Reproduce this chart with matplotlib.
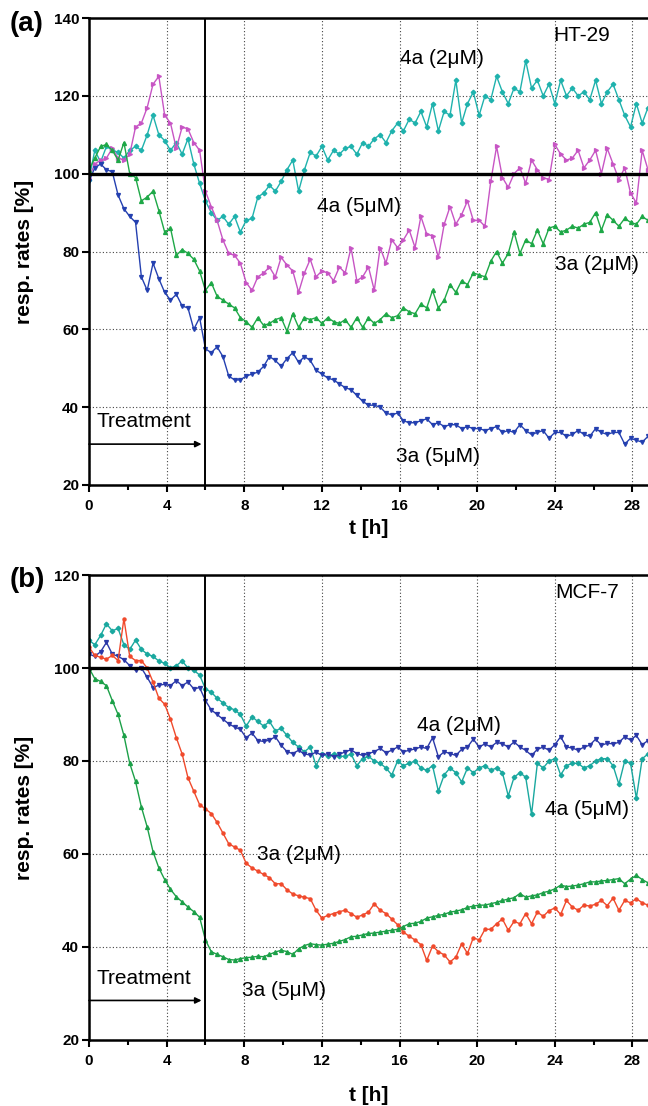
import numpy as np
import matplotlib
matplotlib.use('Agg')
import matplotlib.pyplot as plt
from matplotlib.ticker import MultipleLocator

plt.rcParams['font.family'] = ['Liberation Sans', 'DejaVu Sans']

# sampling times [h] (same grid for all curves)
hours = [0.0, 0.3, 0.6, 0.9, 1.2, 1.5, 1.8, 2.1, 2.4, 2.7,
         3.0, 3.3, 3.6, 3.9, 4.2, 4.5, 4.8, 5.1, 5.4, 5.7,
         6.0, 6.3, 6.6, 6.9, 7.2, 7.5, 7.8, 8.1, 8.4, 8.7,
         9.0, 9.3, 9.6, 9.9, 10.2, 10.5, 10.8, 11.1, 11.4, 11.7,
         12.0, 12.3, 12.6, 12.9, 13.2, 13.5, 13.8, 14.1, 14.4, 14.7,
         15.0, 15.3, 15.6, 15.9, 16.2, 16.5, 16.8, 17.1, 17.4, 17.7,
         18.0, 18.3, 18.6, 18.9, 19.2, 19.5, 19.8, 20.1, 20.4, 20.7,
         21.0, 21.3, 21.6, 21.9, 22.2, 22.5, 22.8, 23.1, 23.4, 23.7,
         24.0, 24.3, 24.6, 24.9, 25.2, 25.5, 25.8, 26.1, 26.4, 26.7,
         27.0, 27.3, 27.6, 27.9, 28.2, 28.5, 28.8]

# (a) HT-29
ht29_4a_2uM = [98.5, 106, 103, 107, 106, 105.5, 104, 106, 107, 106,
               110, 115, 110, 108.5, 106, 108, 105, 109, 102.5, 97.5,
               93, 90, 88, 89, 87, 89, 85, 88, 88.5, 94,
               95, 97, 95.5, 98, 101, 103.5, 95.5, 101, 105.5, 104.5,
               107, 103.5, 106, 105, 106.5, 107, 105, 108, 107, 109,
               110, 108, 111, 113, 111, 114, 113, 116, 112, 118,
               111, 116, 115, 124, 113, 118, 121, 115, 120, 119,
               125, 121, 118, 122, 121, 129, 122, 124, 120, 123,
               118, 124, 120, 122, 120, 121, 119, 124, 118, 121,
               123, 119, 115, 112, 118, 113, 117]
ht29_4a_5uM = [99, 102.5, 103.5, 104, 106.5, 104, 103.5, 105, 112, 113,
               117, 123, 125, 115, 113, 106.5, 112, 111.5, 108, 106,
               95.5, 91.5, 88, 83, 79.5, 79, 77, 72, 70, 73.5,
               74.5, 76, 73.5, 78.5, 76.5, 75, 69.5, 74.5, 78, 73.5,
               75, 74.5, 72.5, 76, 74.5, 81, 72.5, 73.5, 76, 70,
               81, 77, 83, 81, 83, 85.5, 81, 89, 84.5, 84,
               78.5, 87, 91.5, 87, 89.5, 93, 88, 88, 86.5, 98,
               107, 99, 96.5, 100, 101.5, 97.5, 103.5, 101, 99, 98.5,
               107.5, 105, 103.5, 104, 106, 101.5, 103.5, 106, 100, 106.5,
               102.5, 98.5, 101.5, 95, 92.5, 106, 101]
ht29_3a_2uM = [101, 104, 107, 107.5, 106, 103.5, 108, 100, 99, 93,
               94, 95.5, 90.5, 85, 86, 79, 80.5, 79.5, 78, 75,
               70, 72, 68.5, 67.5, 66.5, 65.5, 63, 62, 60.5, 63,
               61, 61.5, 62.5, 63, 59.5, 64, 60.5, 63, 62.5, 63,
               61.5, 63, 62, 61.5, 62.5, 60.5, 63, 60.5, 63, 61.5,
               62.5, 64, 63, 63.5, 65.5, 64.5, 64, 66.5, 65.5, 70,
               65.5, 67.5, 71.5, 69.5, 72.5, 71.5, 74.5, 74, 73.5, 77.5,
               80, 77, 79.5, 85, 79.5, 83, 82, 85.5, 82, 86,
               86.5, 85, 85.5, 86.5, 86, 87, 87.5, 90, 85.5, 89.5,
               88, 86.5, 88.5, 87.5, 87, 89, 88]
ht29_3a_5uM = [98, 101.5, 102.5, 101, 100.5, 94.5, 91, 89, 87.5, 73.5,
               70, 77, 73, 69.5, 67.5, 69, 66, 65.5, 60, 63,
               55, 54, 55.5, 53, 48, 47, 47, 48, 48.5, 49,
               50.5, 53, 52, 50.5, 52.5, 54, 51.5, 53, 52, 49.5,
               48.5, 47.5, 47, 46, 45, 44.5, 43, 41.5, 40.5, 40.5,
               40, 38.5, 38, 38.5, 36.5, 36, 36, 36.5, 37, 35.5,
               36, 35, 35.5, 35.5, 34.5, 35, 34.5, 34.5, 34, 34.5,
               35, 33.5, 34, 33.5, 35.5, 34, 33, 33.5, 34, 32,
               33.5, 33.5, 32.5, 33, 34, 33, 32.5, 34.5, 33.5, 33,
               33.5, 33.5, 30.5, 32, 31.5, 31, 32.5]

# (b) MCF-7
mcf7_4a_5uM = [106, 105, 107, 109.5, 108, 108.5, 105, 104, 106, 104,
               103, 102.5, 101.5, 101, 100, 100.5, 101.5, 100, 99.5, 98.5,
               95.5, 94.8, 93.5, 92.5, 91.5, 91, 90, 87.5, 89.5, 88.5,
               87.5, 88.5, 86.5, 87, 85.5, 84, 83, 82, 83, 79,
               81.5, 81, 81.5, 81, 81, 81.5, 79, 80.5, 81, 80,
               79.5, 78.5, 77, 80, 79, 79.5, 80, 78.5, 78, 79,
               73.5, 77, 78.5, 77.5, 75.5, 78.5, 77.5, 78.5, 79, 78,
               78.5, 77.5, 72.5, 76.5, 77.5, 76.5, 68.5, 79.5, 78.5, 80,
               80.5, 77, 79, 79.5, 79.5, 78.5, 79, 80, 80.5, 80.5,
               79, 75, 80, 79.5, 72, 80.5, 81.5]
mcf7_4a_2uM = [103, 102.5, 103.5, 105.5, 103, 102.5, 101.8, 100.5, 99.5, 100,
               98, 95.8, 96.3, 96.5, 96.2, 97.3, 96.2, 97, 95.5, 95.8,
               93, 91, 90, 89, 88, 87.3, 86.8, 85, 86, 84.4,
               84.2, 84.5, 85.2, 83.4, 82, 81.6, 82.3, 81.5, 81.3, 81.9,
               81.2, 81.6, 80.9, 81.4, 82, 82.4, 81.6, 81.2, 81.6, 82,
               82.7, 81.8, 82.3, 83, 82, 82.3, 82.6, 83, 82.7, 85,
               80.9, 82, 81.6, 81.2, 82.5, 83, 84.7, 83, 83.7, 83,
               84, 83.7, 83, 84.1, 83, 82.3, 81.2, 82.5, 83, 82.3,
               83.5, 85.2, 83, 82.8, 82.3, 83, 83.4, 84.7, 83.4, 83.8,
               83.7, 84, 85.2, 84.5, 85.5, 83.5, 84.4]
mcf7_3a_2uM = [104.5, 102.7, 102.3, 101.9, 102.7, 101.6, 110.6, 102.5, 101.6, 101.6,
               100, 97, 93.5, 92.2, 89, 85, 81.5, 76.4, 73.5, 70.6,
               69.7, 68.7, 66.8, 64.5, 62.2, 61.5, 60.8, 58, 57, 56.3,
               55.6, 54.9, 53.6, 53.6, 52.3, 51.4, 51, 50.7, 50.4, 47.9,
               46.2, 46.8, 47.2, 47.6, 47.9, 47.2, 46.4, 46.9, 47.5, 49.3,
               47.9, 47.2, 46, 44.8, 43.2, 42.3, 41.5, 40.5, 37.1, 40.2,
               39, 38.3, 36.8, 37.8, 40.7, 38.6, 42, 41.5, 43.8, 43.8,
               45, 46, 43.6, 45.5, 45, 47.2, 45, 47.5, 46.6, 47.8,
               48.4, 47, 50, 48.6, 47.9, 49, 48.8, 49.2, 50, 48.9,
               50.5, 47.9, 50, 49.5, 50.4, 49.5, 49]
mcf7_3a_5uM = [100, 97.7, 97.1, 96.2, 93, 90, 85.5, 79.5, 75.6, 70.1,
               65.8, 60.5, 57, 54.5, 52.4, 50.8, 49.7, 48.6, 47.6, 46.4,
               41.5, 39, 38.4, 37.9, 37.3, 37.2, 37.5, 37.7, 37.8, 38,
               37.9, 38.4, 38.9, 39.3, 39, 38.4, 39.6, 40.3, 40.7, 40.5,
               40.4, 40.6, 40.8, 41.2, 41.6, 42.2, 42.3, 42.6, 42.9, 43,
               43.2, 43.4, 43.6, 43.8, 44.4, 45, 45.1, 45.5, 46.2, 46.5,
               46.8, 47, 47.5, 47.7, 48, 48.5, 48.8, 49, 49, 49.3,
               49.6, 50, 50.3, 50.6, 51.5, 50.7, 51, 51.2, 51.7, 52,
               52.5, 53.3, 53, 53.1, 53.3, 53.6, 54, 54, 54.2, 54.3,
               54.5, 54.7, 53.6, 54.6, 55.4, 54.5, 53.8]

fig = plt.figure(figsize=(6.48, 11.06), dpi=100)
ax_a = fig.add_axes([0.1373, 0.5615, 0.8627, 0.4222])
ax_b = fig.add_axes([0.1373, 0.0597, 0.8627, 0.4204])


def style_axes(ax, ymax):
    ax.set_xlim(0, 28.8)
    ax.set_ylim(20, ymax)
    ax.xaxis.set_major_locator(MultipleLocator(4))
    ax.xaxis.set_minor_locator(MultipleLocator(2))
    ax.yaxis.set_major_locator(MultipleLocator(20))
    ax.grid(True, which='major', color='#444444', linestyle=(0, (1, 2)), linewidth=0.8)
    ax.set_axisbelow(True)
    ax.spines['right'].set_visible(False)
    for s in ['left', 'bottom', 'top']:
        ax.spines[s].set_linewidth(1.8)
    ax.tick_params(which='major', direction='out', length=5, width=1.5, labelsize=11)
    ax.tick_params(axis='x', which='major', pad=5)
    ax.tick_params(axis='y', which='major', pad=2)
    ax.tick_params(axis='x', which='minor', direction='out', length=3.5, width=1.5)
    ax.tick_params(top=False, right=False)
    for lab in ax.get_xticklabels() + ax.get_yticklabels():
        lab.set_fontweight('bold')
    ax.axhline(100, color='black', linewidth=2.4, zorder=3)
    ax.axvline(6, color='black', linewidth=1.4, zorder=3)
    ax.set_ylabel('resp. rates [%]', fontsize=15, fontweight='bold')
    ax.yaxis.set_label_coords(-0.098, 0.5)
    ax.set_xlabel('t [h]', fontsize=15, fontweight='bold')


style_axes(ax_a, 140)
style_axes(ax_b, 120)
ax_a.xaxis.set_label_coords(0.5, -0.072)
ax_b.xaxis.set_label_coords(0.5, -0.1)

lkw = dict(linewidth=1.0, markersize=2.8, zorder=2)
ax_a.plot(hours, ht29_4a_2uM, color='#1fb2ad', marker='D', markersize=2.3, linewidth=1.0, zorder=2)
ax_a.plot(hours, ht29_4a_5uM, color='#c755c4', marker='>', **lkw)
ax_a.plot(hours, ht29_3a_2uM, color='#1ea847', marker='^', **lkw)
ax_a.plot(hours, ht29_3a_5uM, color='#2440b0', marker='v', **lkw)

ax_b.plot(hours, mcf7_4a_5uM, color='#1aa89f', marker='D', markersize=2.3, linewidth=1.0, zorder=2)
ax_b.plot(hours, mcf7_4a_2uM, color='#2a38a8', marker='v', **lkw)
ax_b.plot(hours, mcf7_3a_2uM, color='#f04a2c', marker='o', markersize=2.2, linewidth=1.0, zorder=2)
ax_b.plot(hours, mcf7_3a_5uM, color='#1ca048', marker='^', **lkw)

tkw = dict(fontsize=15, va='center', ha='left')
ax_a.text(16.0, 129.7, '4a (2\u03bcM)', **tkw)
ax_a.text(23.9, 135.6, 'HT-29', **tkw)
ax_a.text(11.75, 91.5, '4a (5\u03bcM)', **tkw)
ax_a.text(24.0, 76.7, '3a (2\u03bcM)', **tkw)
ax_a.text(15.8, 27.4, '3a (5\u03bcM)', **tkw)
ax_a.text(0.4, 36.2, 'Treatment', **tkw)
ax_a.annotate('', xy=(5.8, 30.5), xytext=(0, 30.5),
              arrowprops=dict(arrowstyle='-|>', color='black', lw=1.2,
                              mutation_scale=9, shrinkA=0, shrinkB=0))

ax_b.text(24.0, 116.3, 'MCF-7', **tkw)
ax_b.text(16.9, 87.6, '4a (2\u03bcM)', **tkw)
ax_b.text(23.5, 69.6, '4a (5\u03bcM)', **tkw)
ax_b.text(8.66, 59.8, '3a (2\u03bcM)', **tkw)
ax_b.text(7.9, 30.7, '3a (5\u03bcM)', **tkw)
ax_b.text(0.4, 33.3, 'Treatment', **tkw)
ax_b.annotate('', xy=(5.8, 28.5), xytext=(0, 28.5),
              arrowprops=dict(arrowstyle='-|>', color='black', lw=1.2,
                              mutation_scale=9, shrinkA=0, shrinkB=0))

fig.text(0.015, 0.99, '(a)', fontsize=20, fontweight='bold', va='top', ha='left')
fig.text(0.015, 0.487, '(b)', fontsize=20, fontweight='bold', va='top', ha='left')

fig.savefig('out.png', dpi=100)
